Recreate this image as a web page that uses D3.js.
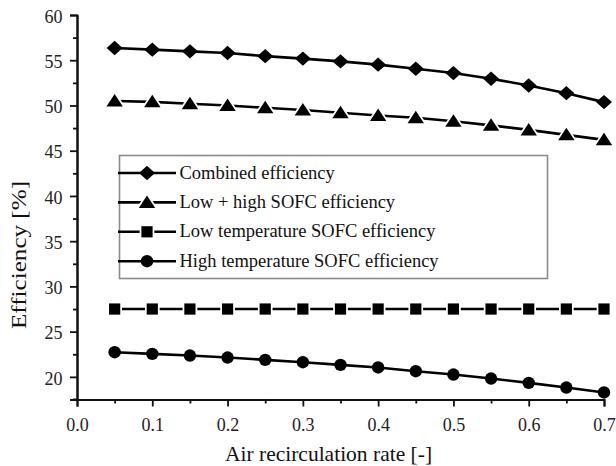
<!DOCTYPE html>
<html>
<head>
<meta charset="utf-8">
<script src="https://cdn.jsdelivr.net/npm/d3@7/dist/d3.min.js"></script>
<style>
  html, body { margin: 0; padding: 0; background: #fff; }
  svg, svg text { font-family: "Liberation Serif", "Times New Roman", Times, serif; }
  svg { display: block; }
</style>
</head>
<body>
<svg id="chart" width="616" height="466"></svg>
<script>
// Air recirculation rate (x) and efficiency series (%)
const recirculation = [0.05, 0.10, 0.15, 0.20, 0.25, 0.30, 0.35, 0.40, 0.45, 0.50, 0.55, 0.60, 0.65, 0.70];
const combined  = [56.35, 56.17, 55.98, 55.80, 55.45, 55.18, 54.87, 54.51, 54.06, 53.58, 52.96, 52.20, 51.36, 50.37];
const lowHigh   = [50.50, 50.40, 50.19, 50.00, 49.74, 49.50, 49.19, 48.90, 48.64, 48.26, 47.80, 47.30, 46.75, 46.20];
const lowTemp   = [27.5, 27.5, 27.5, 27.5, 27.5, 27.5, 27.5, 27.5, 27.5, 27.5, 27.5, 27.5, 27.5, 27.5];
const highTemp  = [22.73, 22.54, 22.36, 22.14, 21.88, 21.62, 21.33, 21.04, 20.63, 20.26, 19.82, 19.34, 18.82, 18.28];

const seriesNames = ["Combined efficiency", "Low + high SOFC efficiency",
                     "Low temperature SOFC efficiency", "High temperature SOFC efficiency"];
const seriesSymbols = ["diamond", "triangle", "square", "circle"];
const xTicks = [0, 0.1, 0.2, 0.3, 0.4, 0.5, 0.6, 0.7];
const yTicks = [20, 25, 30, 35, 40, 45, 50, 55, 60];

const series = [combined, lowHigh, lowTemp, highTemp].map((vals, i) => ({
  name: seriesNames[i], symbol: seriesSymbols[i],
  points: vals.map((v, j) => [recirculation[j], v])
}));

const svg = d3.select("#chart");
const plotLeft = 77, plotRight = 604, plotTop = 15, plotBottom = 399.5;

const x = d3.scaleLinear().domain([0, 0.7]).range([plotLeft, plotRight]);
const y = d3.scaleLinear().domain([17.5, 60]).range([plotBottom, plotTop]);

// marker shapes
function marker(sel, kind) {
  if (kind === "circle") {
    sel.append("circle").attr("r", 6.2);
  } else if (kind === "square") {
    sel.append("rect").attr("x", -5.6).attr("y", -5.6).attr("width", 11.2).attr("height", 11.2);
  } else if (kind === "triangle") {
    sel.append("path").attr("d", "M0,-7 L8.2,5.5 L-8.2,5.5 Z");
  } else {
    sel.append("path").attr("d", "M0,-7.2 L8,0 L0,7.2 L-8,0 Z");
  }
}

// axes
const tickFont = 18;
const xAxis = d3.axisBottom(x).tickValues(xTicks).tickFormat(d3.format(".1f")).tickSizeOuter(0).tickSize(7).tickPadding(11.5);
const gx = svg.append("g").attr("transform", `translate(0,${plotBottom})`).call(xAxis);
const yAxis = d3.axisLeft(y).tickValues(yTicks).tickFormat(d3.format("d")).tickSizeOuter(0).tickSize(7).tickPadding(7.5);
const gy = svg.append("g").attr("transform", `translate(${plotLeft},0)`).call(yAxis);
gy.selectAll(".tick text").attr("dy", "0.4em");

// minor ticks
const xMinor = d3.range(0.05, 0.7, 0.1);
const yMinor = d3.range(17.5, 60, 5);
const gx2 = svg.append("g").attr("transform", `translate(0,${plotBottom})`)
  .call(d3.axisBottom(x).tickValues(xMinor).tickFormat("").tickSize(4).tickSizeOuter(0));
const gy2 = svg.append("g").attr("transform", `translate(${plotLeft},0)`)
  .call(d3.axisLeft(y).tickValues(yMinor).tickFormat("").tickSize(4).tickSizeOuter(0));

[gx, gy, gx2, gy2].forEach(g => {
  g.attr("font-family", null);
  g.select(".domain").attr("stroke", "#111").attr("stroke-width", 2);
  g.selectAll(".tick line").attr("stroke", "#111").attr("stroke-width", 1.8);
  g.selectAll(".tick text").attr("fill", "#222").attr("font-size", tickFont);
});
// extend the x-axis line to meet the lowest minor tick of the y-axis
svg.append("line").attr("x1", plotLeft - 4).attr("x2", plotLeft).attr("y1", plotBottom).attr("y2", plotBottom)
  .attr("stroke", "#111").attr("stroke-width", 2);

// axis titles
svg.append("text").attr("x", (plotLeft + plotRight) / 2 - 12).attr("y", 461)
  .attr("text-anchor", "middle").attr("font-size", 21.5).attr("fill", "#111")
  .text("Air recirculation rate [-]");
svg.append("text").attr("transform", "translate(26,255) rotate(-90)")
  .attr("text-anchor", "middle").attr("font-size", 21.5).attr("fill", "#111")
  .attr("textLength", 148).attr("lengthAdjust", "spacingAndGlyphs")
  .text("Efficiency [%]");

// series lines and markers
const line = d3.line().x(d => x(d[0])).y(d => y(d[1]));
series.forEach(s => {
  svg.append("path").datum(s.points).attr("d", line)
    .attr("fill", "none").attr("stroke", "#000").attr("stroke-width", 2.6);
  const m = svg.append("g").selectAll("g").data(s.points).join("g")
    .attr("transform", d => `translate(${x(d[0])},${y(d[1])})`);
  m.each(function () { marker(d3.select(this), s.symbol); });
  const halo = (s.symbol === "square" || s.symbol === "triangle") ? 3.5 : 0;
  m.selectAll("*").attr("fill", "#000").attr("stroke", "#fff").attr("stroke-width", halo)
    .attr("paint-order", "stroke");
});

// legend
const lg = svg.append("g");
lg.append("rect").attr("x", 119.5).attr("y", 155.5).attr("width", 428).attr("height", 123)
  .attr("fill", "#fff").attr("stroke", "#8a8a8a").attr("stroke-width", 1.6);
const rows = lg.selectAll("g.row").data(series).join("g")
  .attr("class", "row")
  .attr("transform", (d, i) => `translate(0,${173 + i * 29.4})`);
rows.append("line").attr("x1", 118).attr("x2", 176).attr("y1", 0).attr("y2", 0)
  .attr("stroke", "#000").attr("stroke-width", 2.6);
rows.each(function (d) {
  const g = d3.select(this).append("g").attr("transform", "translate(147,0)");
  marker(g, d.symbol);
  const halo = (d.symbol === "square" || d.symbol === "triangle") ? 3.5 : 0;
  g.selectAll("*").attr("fill", "#000").attr("stroke", "#fff").attr("stroke-width", halo)
    .attr("paint-order", "stroke");
});
rows.append("text").attr("x", 179.5).attr("y", 0).attr("dy", "0.3em")
  .attr("font-size", 18.5).attr("fill", "#111").text(d => d.name);
</script>
</body>
</html>
